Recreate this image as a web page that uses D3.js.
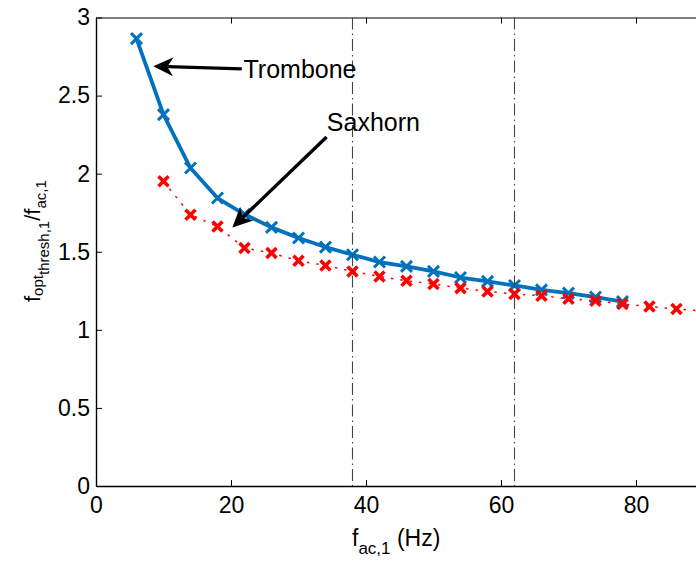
<!DOCTYPE html>
<html><head><meta charset="utf-8">
<script src="https://cdn.jsdelivr.net/npm/d3@7"></script>
<style>body{margin:0;background:#fff} svg{display:block;font-family:"Liberation Sans",Arial,Helvetica,sans-serif}</style>
</head><body><svg id="c" width="696" height="561"></svg>
<script>
// ---- data ----
const tromboneX = [6,10,14,18,22,26,30,34,38,42,46,50,54,58,62,66,70,74,78];
const tromboneY = [2.865,2.378,2.036,1.844,1.74,1.656,1.588,1.530,1.481,1.434,1.406,1.374,1.335,1.310,1.284,1.256,1.235,1.21,1.181];
const saxhornX = [10,14,18,22,26,30,34,38,42,46,50,54,58,62,66,70,74,78,82,86,90];
const saxhornY = [1.951,1.737,1.662,1.524,1.492,1.442,1.412,1.374,1.342,1.314,1.293,1.267,1.246,1.229,1.218,1.199,1.186,1.165,1.150,1.133,1.12];
const xTicks = [0,20,40,60,80];
const xTickLabels = ["0","20","40","60","80"];
const yTicks = [0,0.5,1,1.5,2,2.5,3];
const yTickLabels = ["0","0.5","1","1.5","2","2.5","3"];
const refLines = [38,62];
const arrowLabels = ["Trombone","Saxhorn"];
const arrowTails = [[21.6,2.671],[34.16,2.235]];
const arrowTips = [[8.49,2.688],[20.2,1.655]];
const labelAnchors = [[21.85,2.671],[34.2,2.271]];

// ---- scales ----
const svg = d3.select("#c");
const x = d3.scaleLinear().domain([0,90]).range([96,96+607.5]);
const y = d3.scaleLinear().domain([0,3]).range([486,17.5]);
const blue = "#0072BD", red = "#FF0000";

const g = svg.append("g");
// bottom axis
const xAxis = d3.axisBottom(x).tickValues(xTicks).tickFormat((d,i)=>xTickLabels[i]).tickSizeInner(-6).tickSizeOuter(0).tickPadding(11);
const gx = g.append("g").attr("transform",`translate(0,${y(0)})`).call(xAxis);
gx.select(".domain").attr("stroke","#000").attr("stroke-width",1.4);
gx.selectAll("text").attr("font-size",23).attr("fill","#000").attr("font-family","Liberation Sans, Arial, sans-serif");
// top ticks
const xTop = d3.axisTop(x).tickValues(xTicks).tickFormat("").tickSizeInner(-6).tickSizeOuter(0);
const gt = g.append("g").attr("transform",`translate(0,${y(3)})`).call(xTop);
gt.select(".domain").attr("stroke","#000").attr("stroke-width",1.2);
// left axis
const yAxis = d3.axisLeft(y).tickValues(yTicks).tickFormat((d,i)=>yTickLabels[i]).tickSizeInner(-6).tickSizeOuter(0).tickPadding(6);
const gy = g.append("g").attr("transform",`translate(${x(0)},0)`).call(yAxis);
gy.select(".domain").attr("stroke","#000").attr("stroke-width",1.4);
gy.selectAll("text").attr("font-size",23).attr("fill","#000").attr("font-family","Liberation Sans, Arial, sans-serif");

// data
const tromb = tromboneX.map((v,i)=>[v,tromboneY[i]]);
const sax = saxhornX.map((v,i)=>[v,saxhornY[i]]);
const line = d3.line().x(d=>x(d[0])).y(d=>y(d[1]));

g.append("path").datum(tromb).attr("d",line).attr("fill","none").attr("stroke",blue).attr("stroke-width",3.8).attr("stroke-linejoin","round");
function xMarks(data,color,half,sw){
  g.append("g").selectAll("path").data(data).join("path")
   .attr("d",d=>{const cx=x(d[0]),cy=y(d[1]);return `M${cx-half},${cy-half}L${cx+half},${cy+half}M${cx-half},${cy+half}L${cx+half},${cy-half}`;})
   .attr("stroke",color).attr("stroke-width",sw).attr("fill","none");
}
xMarks(tromb,blue,5.5,3);
g.append("path").datum(sax).attr("d",line).attr("fill","none").attr("stroke",red).attr("stroke-width",1.5).attr("stroke-dasharray","2.5,7");
xMarks(sax,red,5,3.6);

// reference lines
g.selectAll(".ref").data(refLines).join("line").attr("class","ref")
  .attr("x1",d=>x(d)).attr("x2",d=>x(d)).attr("y1",y(3)).attr("y2",y(0))
  .attr("stroke","#444").attr("stroke-width",1.1).attr("stroke-dasharray","12,4,1.5,4");

// arrows
arrowLabels.forEach((lab,i)=>{
  const [tx,ty]=[x(arrowTails[i][0]),y(arrowTails[i][1])];
  const [hx,hy]=[x(arrowTips[i][0]),y(arrowTips[i][1])];
  const ang=Math.atan2(hy-ty,hx-tx);
  const L=20,W=9.5,N=14;
  const c=Math.cos(ang),s=Math.sin(ang);
  const P=(a,b)=>[hx+a*c-b*s, hy+a*s+b*c];
  const back=P(-N,0);
  g.append("line").attr("x1",tx).attr("y1",ty).attr("x2",back[0]).attr("y2",back[1]).attr("stroke","#000").attr("stroke-width",3.4);
  const pts=[P(0,0),P(-L,W),P(-N,0),P(-L,-W)];
  g.append("path").attr("d","M"+pts.map(p=>p.join(",")).join("L")+"Z").attr("fill","#000");
  g.append("text").attr("x",x(labelAnchors[i][0])).attr("y",y(labelAnchors[i][1]))
   .attr("dy",i===0?"0.35em":"0").attr("font-size",25).attr("fill","#000").text(lab);
});

// x label
const xl = g.append("text").attr("x",352).attr("y",546).attr("font-size",23).attr("fill","#000");
xl.append("tspan").text("f");
xl.append("tspan").attr("font-size",17).attr("dy",8).text("ac,1");
xl.append("tspan").attr("dy",-8).text(" (Hz)");

// y label
const yl = g.append("text").attr("transform","translate(40,302) rotate(-90)").attr("font-size",22).attr("fill","#000");
yl.append("tspan").text("f");
yl.append("tspan").attr("font-size",15).attr("dy",3).text("opt");
yl.append("tspan").attr("font-size",15).attr("dy",6).text("thresh,1");
yl.append("tspan").attr("dy",-9).text("/f");
yl.append("tspan").attr("font-size",15).attr("dy",6).text("ac,1");
</script></body></html>
